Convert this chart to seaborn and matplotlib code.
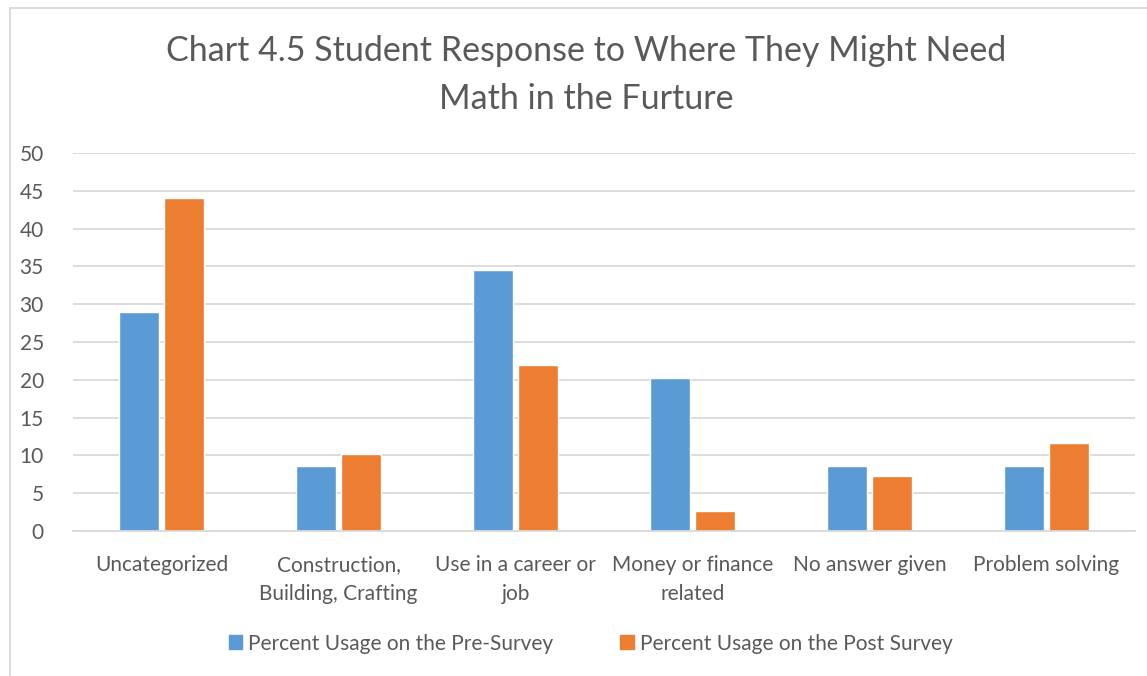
import matplotlib.pyplot as plt
import matplotlib.patches as mpatches
import pandas as pd
import seaborn as sns

categories = [
    "Uncategorized",
    "Construction,\nBuilding, Crafting",
    "Use in a career or\njob",
    "Money or finance\nrelated",
    "No answer given",
    "Problem solving",
]
pre_survey = [29.0, 8.6, 34.5, 20.2, 8.6, 8.6]
post_survey = [44.1, 10.2, 22.0, 2.7, 7.3, 11.7]
series_names = ["Percent Usage on the Pre-Survey", "Percent Usage on the Post Survey"]
colors = ["#5B9BD5", "#ED7D31"]
title = "Chart 4.5 Student Response to Where They Might Need\nMath in the Furture"

sns.set_theme(style="white")
plt.rcParams["font.family"] = ["Lato", "DejaVu Sans"]

df = pd.DataFrame({
    "category": categories * 2,
    "value": pre_survey + post_survey,
    "series": [series_names[0]] * len(categories) + [series_names[1]] * len(categories),
})

text_color = "#595959"
grid_color = "#D9D9D9"

fig = plt.figure(figsize=(11.47, 6.76), dpi=100)
ax = fig.add_axes([73 / 1147, 1 - 531 / 676, (1135 - 73) / 1147, (531 - 153) / 676])

sns.barplot(data=df, x="category", y="value", hue="series", palette=colors,
            width=0.51, gap=0.11, saturation=1, ax=ax, legend=False)

ax.set_ylim(0, 50)
ax.set_yticks(range(0, 51, 5))
ax.yaxis.grid(True, color=grid_color, linewidth=1.3)
ax.set_axisbelow(True)
for side in ["left", "right", "top"]:
    ax.spines[side].set_visible(False)
ax.spines["bottom"].set_color(grid_color)
ax.spines["bottom"].set_linewidth(1.3)
ax.set_xlabel("")
ax.set_ylabel("")
ax.tick_params(axis="both", length=0, colors=text_color, labelsize=15)
ax.tick_params(axis="x", pad=17)
ax.tick_params(axis="y", pad=21)
for lbl in ax.get_xticklabels():
    lbl.set_linespacing(1.6)

fig.text(0.511, 0.889, title, ha="center", va="center", fontsize=24.5,
         color=text_color, linespacing=1.65)

handles = [mpatches.Patch(color=c, label=n) for c, n in zip(colors, series_names)]
fig.legend(handles=handles, loc="center", bbox_to_anchor=(0.515, 0.048), ncol=2,
           frameon=False, fontsize=15, labelcolor=text_color,
           handlelength=0.65, handleheight=0.65, handletextpad=0.3, columnspacing=3.2)

# outer chart border
fig.patches.append(mpatches.Rectangle((10 / 1147, -0.01), 1.02, 1 - 8 / 676 + 0.01,
                                      transform=fig.transFigure, fill=False,
                                      edgecolor=grid_color, linewidth=1.3))

fig.savefig("out.png", dpi=100)
